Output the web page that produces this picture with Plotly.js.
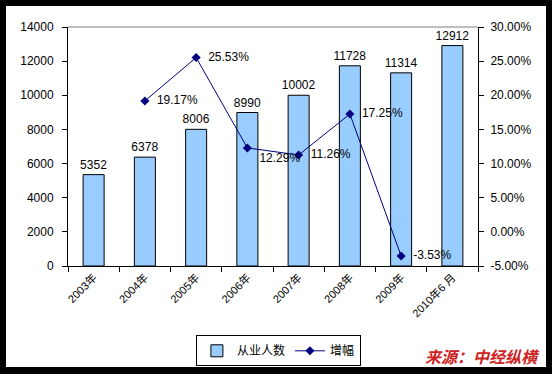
<!DOCTYPE html>
<html>
<head>
<meta charset="utf-8">
<script src="https://cdn.plot.ly/plotly-3.0.1.min.js"></script>
<style>
html,body{margin:0;padding:0;background:#000;width:552px;height:374px;overflow:hidden;}
#chart{position:absolute;left:6px;top:6px;width:540px;height:361px;background:#fff;}
</style>
</head>
<body>
<div id="chart"></div>
<script>
const categories = ["2003年","2004年","2005年","2006年","2007年","2008年","2009年","2010年6 月"];
const employees = [5352, 6378, 8006, 8990, 10002, 11728, 11314, 12912];
const growth = [null, 19.17, 25.53, 12.29, 11.26, 17.25, -3.53, null];
const growthLabels = growth.map(v => v === null ? "" : "  " + v.toFixed(2) + "%");
const leftTicks = [0, 2000, 4000, 6000, 8000, 10000, 12000, 14000];
const rightTicks = [-5, 0, 5, 10, 15, 20, 25, 30];

const FONT = "Liberation Sans, Arial, sans-serif";

const traces = [
  {
    type: "bar",
    name: "从业人数",
    x: categories,
    y: employees,
    text: employees.map(String),
    textposition: "outside",
    constraintext: "none",
    cliponaxis: false,
    textfont: {family: FONT, size: 12, color: "#000"},
    marker: {color: "#99CCFF", line: {color: "#000", width: 1}},
    yaxis: "y"
  },
  {
    type: "scatter",
    mode: "lines+markers+text",
    name: "增幅",
    x: categories,
    y: growth,
    text: growthLabels,
    textposition: ["middle right","middle right","middle right","bottom right","middle right","middle right","middle right","middle right"],
    textfont: {family: FONT, size: 12, color: "#000"},
    cliponaxis: false,
    line: {color: "#000080", width: 1},
    marker: {color: "#000080", symbol: "diamond", size: 7},
    yaxis: "y2"
  }
];

const layout = {
  width: 540,
  height: 361,
  margin: {l: 62, r: 67.5, t: 21, b: 101, autoexpand: false},
  paper_bgcolor: "#fff",
  plot_bgcolor: "#fff",
  font: {family: FONT, size: 12, color: "#000"},
  bargap: 0.59,
  showlegend: true,
  legend: {
    orientation: "h",
    x: 0.312, xanchor: "left",
    y: -0.29, yanchor: "top",
    bordercolor: "#000", borderwidth: 1,
    font: {family: "Noto Sans CJK SC, sans-serif", size: 12, color: "#000"},
    itemwidth: 30,
    tracegroupgap: 0
  },
  xaxis: {
    type: "category",
    automargin: false,
    showline: true, linecolor: "#000", linewidth: 1,
    ticks: "outside", ticklen: 5, tickcolor: "#000",
    tickson: "boundaries",
    tickangle: -45,
    tickfont: {family: "Liberation Sans, Noto Sans CJK SC, sans-serif", size: 11, color: "#000"},
    showgrid: false, zeroline: false
  },
  yaxis: {
    automargin: false,
    range: [0, 14000],
    tickvals: leftTicks,
    ticktext: leftTicks.map(String),
    showline: true, linecolor: "#000", linewidth: 1,
    ticks: "outside", ticklen: 5, tickcolor: "#000",
    ticklabelstandoff: 6,
    tickfont: {family: FONT, size: 12, color: "#000"},
    showgrid: false, zeroline: false
  },
  yaxis2: {
    automargin: false,
    overlaying: "y",
    side: "right",
    range: [-5, 30],
    tickvals: rightTicks,
    ticktext: rightTicks.map(v => v.toFixed(2) + "%"),
    showline: true, linecolor: "#000", linewidth: 1,
    ticks: "outside", ticklen: 5, tickcolor: "#000",
    ticklabelstandoff: 4,
    tickfont: {family: FONT, size: 12, color: "#000"},
    showgrid: false, zeroline: false
  },
  shapes: [
    {type: "line", xref: "paper", yref: "paper", x0: 0, x1: 1, y0: 1, y1: 1, line: {color: "#808080", width: 1}}
  ],
  annotations: [
    {
      xref: "paper", yref: "paper",
      x: 1.155, y: -0.375, xanchor: "right", yanchor: "middle",
      text: "<b><i>来源：中经纵横</i></b>",
      showarrow: false,
      font: {family: "Noto Sans CJK SC, sans-serif", size: 16, color: "#CC2222"}
    }
  ]
};

Plotly.newPlot("chart", traces, layout, {displayModeBar: false, staticPlot: true});
</script>
</body>
</html>
